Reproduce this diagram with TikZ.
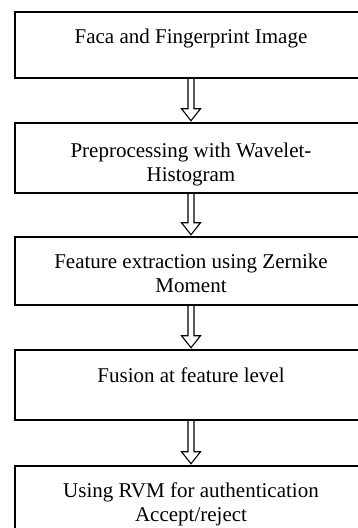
\documentclass[tikz,border=0pt]{standalone}
\usepackage{fontspec}
\setmainfont{Liberation Serif}
\usetikzlibrary{calc}
\tikzset{
  box/.style={draw, line width=1.5pt, rectangle, inner sep=0pt, minimum width=352pt},
  txt/.style={inner sep=0pt, anchor=base, font=\fontsize{21}{24}\selectfont},
  arrowline/.style={line width=1.1pt, line join=miter}
}
\newcommand\hollowarrow[2]{%
  \draw[arrowline] ($(#1.south)+(-3,0)$) -- ($(#2.north)+(-3,13.5)$) -- ($(#2.north)+(-9.5,13.5)$)
   -- ($(#2.north)+(0,1.5)$) -- ($(#2.north)+(9.5,13.5)$) -- ($(#2.north)+(3,13.5)$) -- ($(#1.south)+(3,0)$);}
\begin{document}
\begin{tikzpicture}[x=1pt,y=1pt]
\useasboundingbox (0,0) rectangle (358,-528);
\clip (0,0) rectangle (358,-528);
\node[box, minimum height=66pt] (b1) at (191,-45) {};
\node[box, minimum height=70pt] (b2) at (191,-158) {};
\node[box, minimum height=68pt] (b3) at (191,-271) {};
\node[box, minimum height=70pt] (b4) at (191,-385) {};
\node[box, minimum height=80pt] (b5) at (191,-506) {};
\node[txt] (t1) at (191,-43) {Faca and Fingerprint Image};
\node[txt] (t2a) at (191,-157) {Preprocessing with Wavelet-};
\node[txt] (t2b) at (191,-181) {Histogram};
\node[txt] (t3a) at (191,-268) {Feature extraction using Zernike};
\node[txt] (t3b) at (191,-292) {Moment};
\node[txt] (t4) at (191,-382) {Fusion at feature level};
\node[txt] (t5a) at (191,-497) {Using RVM for authentication};
\node[txt] (t5b) at (191,-521) {Accept/reject};
\hollowarrow{b1}{b2}
\hollowarrow{b2}{b3}
\hollowarrow{b3}{b4}
\hollowarrow{b4}{b5}
\end{tikzpicture}
\end{document}
